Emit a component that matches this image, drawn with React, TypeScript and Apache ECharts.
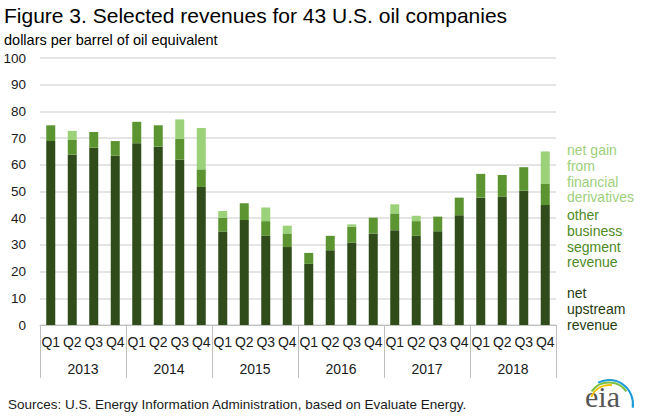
import React, { useEffect, useRef } from "react";
import * as echarts from "echarts";

const quarters = [
  "Q1", "Q2", "Q3", "Q4", "Q1", "Q2", "Q3", "Q4", "Q1", "Q2", "Q3", "Q4",
  "Q1", "Q2", "Q3", "Q4", "Q1", "Q2", "Q3", "Q4", "Q1", "Q2", "Q3", "Q4",
];
const years = ["2013", "2014", "2015", "2016", "2017", "2018"];
const yTicks = [0, 10, 20, 30, 40, 50, 60, 70, 80, 90, 100];

const netUpstream = [
  68.9, 63.9, 66.4, 63.4, 68.1, 66.8, 61.9, 51.7, 35.0, 39.3, 33.4, 29.2,
  22.9, 28.0, 30.9, 34.3, 35.5, 33.4, 35.1, 41.1, 47.7, 48.1, 50.3, 44.9,
];
const otherBusiness = [
  5.9, 5.4, 5.9, 5.5, 8.0, 8.0, 7.9, 6.6, 5.2, 6.3, 5.5, 5.1,
  4.1, 5.4, 5.9, 5.9, 6.3, 5.5, 5.5, 6.6, 8.9, 8.1, 8.8, 7.9,
];
const derivatives = [
  0, 3.4, 0, 0, 0, 0, 7.2, 15.5, 2.5, 0, 5.1, 2.9,
  0, 0, 0.9, 0, 3.4, 2.0, 0, 0, 0, 0, 0, 12.2,
];

const FONT = "'Liberation Sans', Arial, sans-serif";
const C_DARK = "#2f4c1a";
const C_MID = "#5b9431";
const C_LIGHT = "#9bd178";

export default function App() {
  const ref = useRef<HTMLDivElement>(null);
  useEffect(() => {
    if (!ref.current) return;
    const chart = echarts.init(ref.current, undefined, { renderer: "svg" });
    chart.setOption({
      animation: false,
      backgroundColor: "#ffffff",
      textStyle: { fontFamily: FONT },
      grid: { left: 40, right: 94, top: 58, bottom: 93 },
      yAxis: {
        type: "value",
        min: yTicks[0],
        max: yTicks[yTicks.length - 1],
        interval: 10,
        axisLine: { show: false },
        axisTick: { show: false },
        axisLabel: { color: "#1a1a1a", fontSize: 13.5, margin: 14, fontFamily: FONT },
        splitLine: { lineStyle: { color: "#dcdcdc", width: 1.5 } },
      },
      xAxis: [
        {
          type: "category",
          data: quarters,
          position: "bottom",
          axisLine: { show: true, lineStyle: { color: "#bfbfbf", width: 1 } },
          axisTick: { show: false },
          axisLabel: { interval: 0, color: "#1a1a1a", fontSize: 14, margin: 10, fontFamily: FONT },
        },
        {
          type: "category",
          data: years,
          position: "bottom",
          axisLine: { show: false },
          axisTick: {
            show: true,
            length: 53,
            interval: 0,
            lineStyle: { color: "#bfbfbf", width: 1 },
          },
          axisLabel: { interval: 0, color: "#1a1a1a", fontSize: 14, margin: 37, fontFamily: FONT },
          splitLine: { show: false },
        },
      ],
      series: [
        {
          name: "net upstream revenue",
          type: "bar",
          stack: "total",
          xAxisIndex: 0,
          data: netUpstream,
          barWidth: 9,
          itemStyle: { color: C_DARK },
        },
        {
          name: "other business segment revenue",
          type: "bar",
          stack: "total",
          xAxisIndex: 0,
          data: otherBusiness,
          barWidth: 9,
          itemStyle: { color: C_MID },
        },
        {
          name: "net gain from financial derivatives",
          type: "bar",
          stack: "total",
          xAxisIndex: 0,
          data: derivatives,
          barWidth: 9,
          itemStyle: { color: C_LIGHT },
        },
      ],
      graphic: [
        {
          type: "text",
          left: 4,
          top: 5,
          style: { text: "Figure 3. Selected revenues for 43 U.S. oil companies", fill: "#000", font: `21px ${FONT}` },
        },
        {
          type: "text",
          left: 4,
          top: 32,
          style: { text: "dollars per barrel of oil equivalent", fill: "#000", font: `14.5px ${FONT}` },
        },
        {
          type: "text",
          left: 567,
          top: 142,
          style: { text: "net gain\nfrom\nfinancial\nderivatives", fill: "#9dcf7b", font: `14px ${FONT}`, lineHeight: 15.8 },
        },
        {
          type: "text",
          left: 567,
          top: 207,
          style: { text: "other\nbusiness\nsegment\nrevenue", fill: "#4e8a26", font: `14px ${FONT}`, lineHeight: 15.8 },
        },
        {
          type: "text",
          left: 567,
          top: 285,
          style: { text: "net\nupstream\nrevenue", fill: "#253d12", font: `14px ${FONT}`, lineHeight: 15.8 },
        },
        {
          type: "text",
          left: 8,
          top: 397,
          style: { text: "Sources: U.S. Energy Information Administration, based on Evaluate Energy.", fill: "#1a1a1a", font: `13.5px ${FONT}` },
        },
        {
          type: "text",
          left: 585,
          top: 381,
          style: { text: "eia", fill: "#555555", font: `30px 'Liberation Serif', 'DejaVu Serif', serif` },
        },
        {
          type: "arc",
          shape: { cx: 609, cy: 404, r: 19, startAngle: Math.PI * 1.12, endAngle: Math.PI * 1.55 },
          style: { stroke: "#f2c200", lineWidth: 2, fill: null },
        },
        {
          type: "arc",
          shape: { cx: 609, cy: 404, r: 21.5, startAngle: Math.PI * 1.2, endAngle: Math.PI * 1.8 },
          style: { stroke: "#7cc242", lineWidth: 2, fill: null },
        },
        {
          type: "arc",
          shape: { cx: 609, cy: 404, r: 24, startAngle: Math.PI * 1.35, endAngle: Math.PI * 2.05 },
          style: { stroke: "#1e9ad6", lineWidth: 2, fill: null },
        },
      ],
    });
    return () => chart.dispose();
  }, []);
  return (
    <div
      ref={ref}
      style={{ position: "absolute", left: 0, top: 0, width: 650, height: 418 }}
    />
  );
}
